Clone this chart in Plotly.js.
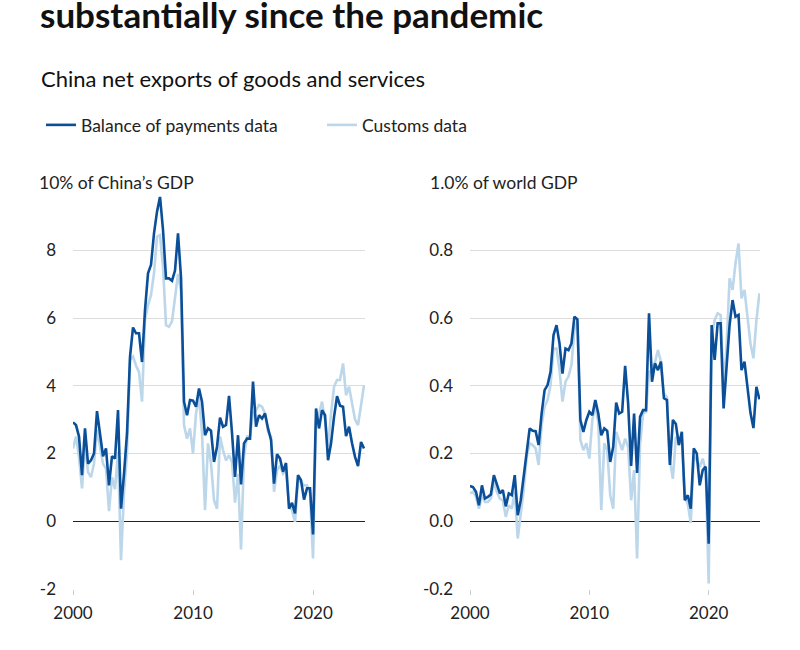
<!DOCTYPE html>
<html>
<head>
<meta charset="utf-8">
<script src="https://cdn.plot.ly/plotly-3.0.1.min.js"></script>
<style>
  html, body { margin: 0; padding: 0; background: #fff; }
  #chart { width: 800px; height: 650px; }
</style>
</head>
<body>
<div id="chart"></div>
<script>
// Quarterly observations, 2000Q1 .. 2024Q2
const startYear = 2000;
const seriesNames = ["Balance of payments data", "Customs data"];
const xTickVals = [2000, 2010, 2020];

// % of China's GDP
const bopChinaGDP = [2.92,2.84,2.5,1.36,2.74,1.7,1.8,2.0,3.25,2.6,1.92,2.15,1.06,1.92,1.85,3.28,0.37,1.4,2.6,4.85,
  5.72,5.55,5.55,4.7,6.24,7.32,7.57,8.5,9.14,9.58,8.6,7.17,7.17,7.1,7.4,8.5,7.2,3.53,3.13,3.58,
  3.56,3.38,3.92,3.53,2.54,2.74,2.67,1.75,2.2,3.06,2.79,2.84,3.7,2.6,1.31,2.54,1.09,2.3,2.44,2.44,
  4.12,2.79,3.13,3.03,3.18,2.74,2.4,1.11,1.98,1.85,1.46,1.72,0.37,0.54,0.23,1.36,1.21,0.64,0.97,0.97,
  -0.39,3.33,2.74,3.28,3.13,1.8,2.3,3.08,3.69,3.41,3.38,2.51,2.79,2.3,1.9,1.63,2.34,2.15];
const customsChinaGDP = [2.15,2.5,1.9,0.97,2.3,1.45,1.3,1.7,2.7,2.15,1.7,1.55,0.3,1.3,0.95,2.05,-1.15,0.85,2.0,4.76,
  4.86,4.6,4.4,3.53,5.94,6.38,6.68,7.32,8.4,8.45,7.5,5.79,5.74,5.9,6.6,7.3,6.8,2.84,2.44,2.74,
  2.0,3.18,3.67,2.6,0.33,2.3,1.7,0.62,0.37,2.5,2.1,1.8,1.95,1.75,0.55,1.4,-0.83,1.9,2.5,2.5,
  3.2,3.28,3.43,3.38,3.18,2.64,2.5,0.87,1.5,1.65,1.4,1.5,0.47,0.33,-0.02,1.2,1.16,1.06,1.06,0.82,
  -1.1,2.98,3.18,3.53,2.98,2.2,3.18,3.97,4.17,4.17,4.66,3.72,3.97,3.53,3.0,2.84,3.5,4.02];

// % of world GDP
const bopWorldGDP = [0.104,0.101,0.087,0.047,0.106,0.067,0.072,0.079,0.136,0.106,0.082,0.092,0.044,0.082,0.077,0.136,0.018,0.062,0.136,0.2,
  0.274,0.267,0.266,0.225,0.318,0.387,0.402,0.441,0.55,0.579,0.525,0.436,0.51,0.505,0.525,0.604,0.596,0.299,0.264,0.299,
  0.323,0.313,0.358,0.318,0.254,0.274,0.267,0.175,0.22,0.35,0.318,0.323,0.459,0.348,0.163,0.318,0.143,0.308,0.328,0.328,
  0.614,0.412,0.466,0.446,0.471,0.363,0.358,0.166,0.299,0.287,0.225,0.264,0.062,0.077,0.037,0.215,0.2,0.106,0.151,0.161,
  -0.066,0.579,0.476,0.584,0.584,0.333,0.456,0.579,0.653,0.604,0.609,0.446,0.471,0.397,0.32,0.275,0.397,0.36];
const customsWorldGDP = [0.082,0.087,0.072,0.037,0.077,0.057,0.057,0.067,0.116,0.087,0.067,0.062,0.013,0.047,0.037,0.087,-0.051,0.023,0.092,0.19,
  0.23,0.225,0.215,0.166,0.284,0.338,0.358,0.402,0.51,0.51,0.446,0.353,0.412,0.427,0.461,0.565,0.59,0.24,0.21,0.23,
  0.185,0.299,0.338,0.294,0.033,0.23,0.21,0.077,0.037,0.264,0.24,0.21,0.244,0.22,0.062,0.151,-0.11,0.225,0.318,0.323,
  0.44,0.446,0.47,0.505,0.47,0.377,0.367,0.18,0.125,0.25,0.225,0.244,0.072,0.05,-0.005,0.19,0.18,0.16,0.185,0.151,
  -0.184,0.545,0.594,0.614,0.609,0.4,0.515,0.717,0.683,0.762,0.82,0.658,0.683,0.594,0.525,0.481,0.594,0.673];

const quarters = bopChinaGDP.map((_, i) => startYear + i / 4);

const DARK = "#0b4f99";
const LIGHT = "#bcd6ea";
const FONT = "Lato, 'Noto Sans', sans-serif";

const traces = [
  {x: quarters, y: customsChinaGDP, name: seriesNames[1], type: "scatter", mode: "lines",
   line: {color: LIGHT, width: 2.6}, xaxis: "x", yaxis: "y", showlegend: false},
  {x: quarters, y: bopChinaGDP, name: seriesNames[0], type: "scatter", mode: "lines",
   line: {color: DARK, width: 2.6}, xaxis: "x", yaxis: "y", showlegend: true, legendrank: 1},
  {x: quarters, y: customsWorldGDP, name: seriesNames[1], type: "scatter", mode: "lines",
   line: {color: LIGHT, width: 2.6}, xaxis: "x2", yaxis: "y2", showlegend: true, legendrank: 2},
  {x: quarters, y: bopWorldGDP, name: seriesNames[0], type: "scatter", mode: "lines",
   line: {color: DARK, width: 2.6}, xaxis: "x2", yaxis: "y2", showlegend: false}
];

const xCommon = {
  tickvals: xTickVals, ticktext: xTickVals.map(String),
  showgrid: false, zeroline: false, showline: false,
  ticks: "outside", ticklen: 5, tickcolor: "#cccccc", tickwidth: 1,
  ticklabelstandoff: 4,
  tickfont: {family: FONT, size: 17, color: "#222"},
  fixedrange: true
};
const yCommon = {
  showgrid: true, gridcolor: "#dddddd", gridwidth: 1,
  zeroline: true, zerolinecolor: "#222222", zerolinewidth: 1.2,
  ticks: "", showline: false, ticklabelstandoff: 16,
  tickfont: {family: FONT, size: 17, color: "#222"},
  fixedrange: true
};

const layout = {
  width: 800, height: 650,
  margin: {l: 0, r: 0, t: 0, b: 0},
  paper_bgcolor: "#fff", plot_bgcolor: "#fff",
  font: {family: FONT, color: "#222"},
  showlegend: true,
  legend: {orientation: "h", x: 41/800, xanchor: "left", y: (650-125)/650, yanchor: "middle",
           font: {family: FONT, size: 17.5, color: "#222"}, entrywidth: 236, entrywidthmode: "pixels",
           bgcolor: "rgba(0,0,0,0)", traceorder: "normal"},
  xaxis: Object.assign({}, xCommon, {domain: [73/800, 365/800], range: [2000, 2024.33], anchor: "y"}),
  xaxis2: Object.assign({}, xCommon, {domain: [470/800, 760/800], range: [2000, 2024.3], anchor: "y2"}),
  yaxis: Object.assign({}, yCommon, {domain: [61/650, 467.5/650], range: [-2, 10], anchor: "x",
           tickvals: [-2, 0, 2, 4, 6, 8, 10], ticktext: ["-2", "0", "2", "4", "6", "8", ""]}),
  yaxis2: Object.assign({}, yCommon, {domain: [61/650, 467.5/650], range: [-0.2, 1.0], anchor: "x2",
           tickvals: [-0.2, 0, 0.2, 0.4, 0.6, 0.8, 1.0], ticktext: ["-0.2", "0.0", "0.2", "0.4", "0.6", "0.8", ""]}),
  annotations: [
    {text: "<b>substantially since the pandemic</b>", xref: "paper", yref: "paper",
     x: 38/800, y: (650-14)/650, xanchor: "left", yanchor: "middle", showarrow: false,
     font: {family: FONT, size: 35, color: "#111"}},
    {text: "China net exports of goods and services", xref: "paper", yref: "paper",
     x: 39/800, y: (650-78)/650, xanchor: "left", yanchor: "middle", showarrow: false,
     font: {family: FONT, size: 22, color: "#111"}},
    {text: "10% of China’s GDP", xref: "paper", yref: "y", x: 35/800, y: 10,
     xanchor: "left", yanchor: "middle", showarrow: false, bgcolor: "#fff", borderpad: 3,
     font: {family: FONT, size: 17.5, color: "#222"}},
    {text: "1.0% of world GDP", xref: "paper", yref: "y2", x: 425/800, y: 1.0,
     xanchor: "left", yanchor: "middle", showarrow: false, bgcolor: "#fff", borderpad: 4,
     font: {family: FONT, size: 17.5, color: "#222"}}
  ]
};

Plotly.newPlot("chart", traces, layout, {staticPlot: true, displayModeBar: false});
</script>
</body>
</html>
